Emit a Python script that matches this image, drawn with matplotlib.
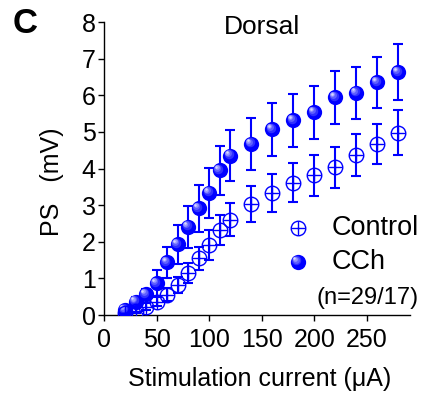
import matplotlib
matplotlib.use('Agg')
import matplotlib.pyplot as plt
import matplotlib.transforms as mtransforms

plt.rcParams['font.family'] = ['Liberation Sans', 'DejaVu Sans']

# stimulation current (uA)
current = [20, 30, 40, 50, 60, 70, 80, 90, 100, 110, 120, 140, 160, 180, 200, 220, 240, 260, 280]
# population spike amplitude (mV)
cch = [0.14, 0.36, 0.57, 0.87, 1.44, 1.93, 2.41, 2.91, 3.34, 3.95, 4.35, 4.67, 5.07, 5.32,
       5.53, 5.94, 6.06, 6.35, 6.63]
cch_err = [0.08, 0.12, 0.15, 0.36, 0.43, 0.53, 0.58, 0.65, 0.68, 0.67, 0.70, 0.70, 0.72, 0.72,
           0.73, 0.73, 0.72, 0.70, 0.77]
control = [0.05, 0.12, 0.23, 0.36, 0.56, 0.82, 1.14, 1.55, 1.91, 2.32, 2.60, 3.03, 3.33, 3.61,
           3.81, 4.03, 4.37, 4.66, 4.98]
control_err = [0.03, 0.06, 0.10, 0.12, 0.17, 0.23, 0.27, 0.32, 0.41, 0.41, 0.45, 0.49, 0.51,
               0.53, 0.56, 0.57, 0.57, 0.55, 0.62]

BLUE = '#0000ff'
MS = 11


def spheres(ax, x, y, ms, transform=None, z=4):
    # filled blue ball with a light highlight towards the upper left
    tr = ax.transData if transform is None else transform
    ax.plot(x, y, 'o', ms=ms, mfc=BLUE, mec=BLUE, mew=0, transform=tr, zorder=z)
    layers = [(0.62, '#3030ff'), (0.45, '#6060ff'), (0.30, '#9a9aff'), (0.16, '#d8d8ff')]
    for frac, col in layers:
        off = (1 - frac) * ms * 0.28
        t = mtransforms.offset_copy(tr, fig=ax.figure, x=-off, y=off, units='points')
        ax.plot(x, y, 'o', ms=ms * frac, mfc=col, mec='none', transform=t, zorder=z + 0.1)


def crossed(ax, x, y, ms, transform=None, z=5):
    tr = ax.transData if transform is None else transform
    ax.plot(x, y, 'o', ms=ms, mfc='none', mec=BLUE, mew=1.0, transform=tr, zorder=z)
    ax.plot(x, y, '+', ms=ms, mec=BLUE, mew=1.0, transform=tr, zorder=z)


fig = plt.figure(figsize=(4.23, 3.98), dpi=100)
ax = fig.add_axes([0.2459, 0.2085, 0.7234, 0.7362])

ax.errorbar(current, cch, yerr=cch_err, fmt='none', ecolor=BLUE, elinewidth=1.5,
            capsize=3.5, capthick=1.5, zorder=3)
ax.errorbar(current, control, yerr=control_err, fmt='none', ecolor=BLUE, elinewidth=1.5,
            capsize=3.5, capthick=1.5, zorder=3)
spheres(ax, current, cch, MS)
crossed(ax, current, control, MS * 0.95)

ax.set_xlim(0, 291)
ax.set_ylim(0, 8)
ax.set_xticks([0, 50, 100, 150, 200, 250])
ax.set_yticks(range(9))
for s in ['top', 'right']:
    ax.spines[s].set_visible(False)
for s in ['left', 'bottom']:
    ax.spines[s].set_linewidth(1.0)
ax.tick_params(direction='out', length=4.5, width=1.0, labelsize=18)
ax.tick_params(axis='x', pad=5)
ax.tick_params(axis='y', pad=1.5)

ax.set_xlabel('Stimulation current (\u03bcA)', fontsize=18)
ax.xaxis.set_label_coords(0.51, -0.177)
ax.set_ylabel('PS   (mV)', fontsize=18)
ax.yaxis.set_label_coords(-0.131, 0.454)

# legend
crossed(ax, [0.634], [0.297], MS * 0.95, transform=ax.transAxes, z=6)
spheres(ax, [0.634], [0.181], MS, transform=ax.transAxes, z=6)
ax.text(0.745, 0.297, 'Control', transform=ax.transAxes, fontsize=19.5, va='center')
ax.text(0.745, 0.181, 'CCh', transform=ax.transAxes, fontsize=19.5, va='center')
ax.text(0.86, 0.058, '(n=29/17)', transform=ax.transAxes, fontsize=17,
        va='center', ha='center')

fig.text(0.62, 1 - 27 / 398, 'Dorsal', fontsize=19, ha='center', va='center')
fig.text(0.059, 0.94, 'C', fontsize=25, fontweight='bold', ha='center', va='center')

fig.savefig('out.png', dpi=100)
